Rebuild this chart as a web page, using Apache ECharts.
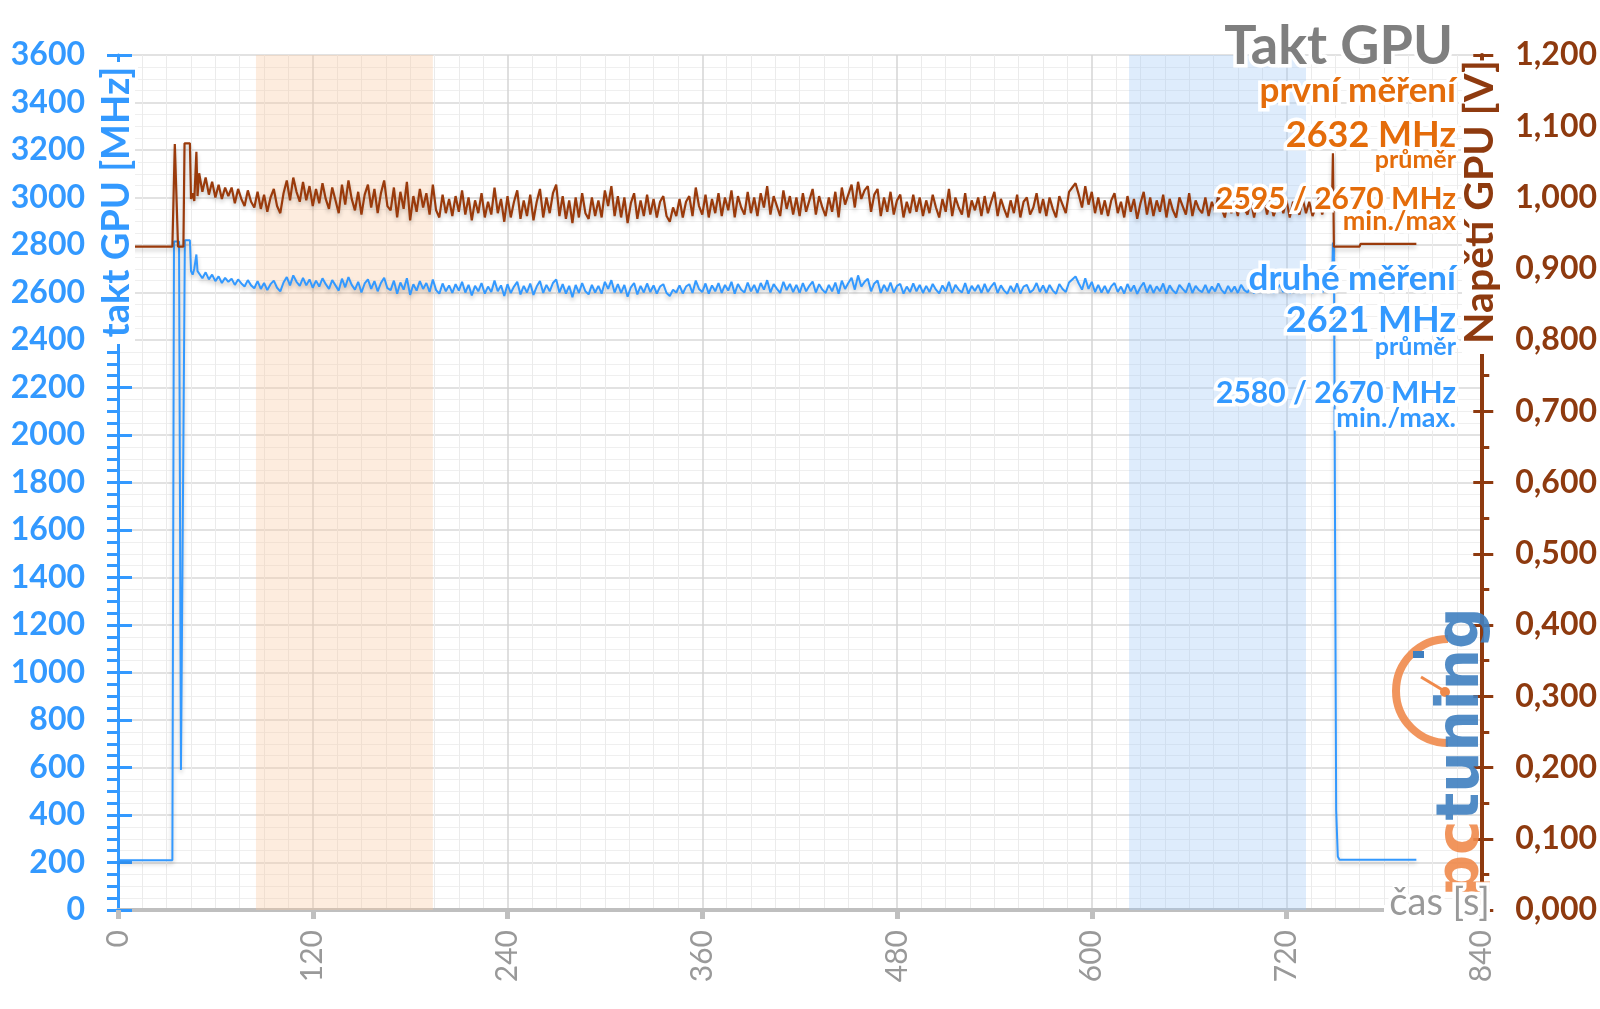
<!DOCTYPE html>
<html><head><meta charset="utf-8">
<script src="https://cdn.jsdelivr.net/npm/echarts@6/dist/echarts.min.js"></script>
<style>html,body{margin:0;padding:0;background:#fff}#c{width:1600px;height:1009px}</style>
</head><body><div id="c"></div><script>
// ---- axis ticks ----
const timeTicks = [0, 120, 240, 360, 480, 600, 720, 840];
const mhzTicks = [0, 200, 400, 600, 800, 1000, 1200, 1400, 1600, 1800, 2000, 2200, 2400, 2600, 2800, 3000, 3200, 3400, 3600];
const mvTicks = [0, 100, 200, 300, 400, 500, 600, 700, 800, 900, 1000, 1100, 1200];

// ---- highlighted intervals (s) ----
const bandOrange = [85, 194];
const bandBlue = [623, 732];

// ---- blue series: GPU clock (MHz) ----
const blueStartTimes = [0, 33.5, 34.5, 37.6, 38.8, 41.2, 44.3, 45, 46, 47, 48.3, 49];
const blueStart = [210, 210, 2815, 2815, 590, 2820, 2820, 2690, 2675, 2700, 2760, 2690];
// sampled every 2 s from 50 s to 746 s
const midBlue = [
2690,2660,2685,2655,2675,2648,2668,2640,2662,2645,
2658,2632,2655,2638,2625,2652,2630,2618,2648,2615,
2640,2610,2635,2650,2620,2605,2642,2665,2630,2672,
2645,2628,2662,2630,2655,2620,2650,2625,2660,2635,
2615,2652,2630,2608,2658,2622,2665,2632,2612,2645,
2600,2638,2655,2615,2648,2605,2640,2662,2618,2610,
2650,2595,2642,2612,2660,2590,2635,2608,2648,2615,
2640,2602,2655,2610,2595,2638,2605,2630,2598,2635,
2608,2645,2600,2632,2588,2628,2605,2640,2595,2625,
2602,2650,2605,2630,2585,2635,2598,2625,2645,2592,
2628,2600,2638,2590,2625,2648,2598,2632,2605,2640,
2655,2600,2635,2595,2628,2580,2632,2598,2640,2605,
2592,2632,2600,2628,2595,2645,2615,2652,2600,2635,
2598,2632,2582,2622,2640,2592,2628,2600,2638,2602,
2630,2595,2625,2635,2598,2585,2612,2600,2630,2596,
2625,2635,2598,2650,2615,2602,2638,2595,2630,2605,
2640,2598,2632,2608,2645,2595,2636,2612,2600,2642,
2605,2632,2598,2640,2612,2652,2600,2635,2615,2598,
2645,2610,2636,2602,2632,2598,2640,2605,2628,2646,
2600,2635,2612,2598,2632,2605,2642,2595,2650,2615,
2640,2662,2612,2672,2625,2645,2658,2605,2638,2650,
2598,2632,2605,2642,2600,2628,2636,2595,2625,2602,
2638,2605,2632,2598,2628,2602,2636,2612,2596,2630,
2605,2645,2598,2632,2612,2600,2640,2595,2628,2606,
2632,2598,2636,2602,2625,2642,2598,2630,2608,2595,
2628,2602,2638,2596,2625,2632,2600,2612,2640,2602,
2630,2598,2632,2608,2595,2636,2615,2602,2642,2655,
2668,2638,2612,2660,2615,2645,2602,2632,2600,2628,
2598,2626,2640,2602,2625,2596,2636,2605,2630,2594,
2622,2642,2600,2632,2598,2626,2605,2638,2595,2630,
2608,2596,2632,2615,2600,2640,2598,2628,2610,2602,
2632,2598,2625,2605,2638,2610,2596,2628,2602,2625,
2598,2632,2610,2600,2628,2596,2625,2608,2632,2600,
2626,2598,2612,2632,2602,2628,2596,2625,2610,2600,
2630,2602,2625,2598,2612,2632,2600,2625,2615
];
const blueEndTimes = [748, 748.6, 749.2, 750.6, 751.6, 752.6, 800];
const blueEnd = [2620, 2810, 2790, 420, 225, 212, 212];

// ---- brown series: GPU voltage (mV) ----
const brownStartTimes = [0, 33.5, 35, 35.9, 37, 40.3, 41, 44.3, 45, 46, 47, 48.3, 49];
const brownStart = [931, 931, 1075, 1075, 931, 931, 1076, 1076, 998, 1006, 995, 1064, 1002];
const midBrown = [
1034,1008,1028,1004,1022,1000,1018,998,1014,1002,
1014,992,1012,998,988,1010,994,986,1008,984,
1004,980,1000,1012,988,978,1006,1024,996,1028,
1008,994,1022,996,1016,988,1012,992,1020,998,
984,1014,996,978,1018,990,1024,998,982,1008,
976,1004,1018,986,1012,978,1006,1024,988,982,
1014,972,1008,984,1022,968,1002,980,1012,986,
1006,976,1018,982,972,1004,978,998,974,1002,
980,1010,976,1000,968,996,978,1006,972,994,
976,1014,978,998,966,1002,972,994,1010,970,
996,974,1004,968,994,1012,972,1000,978,1006,
1018,974,1002,970,996,964,1000,972,1006,978,
970,1000,974,996,972,1010,988,1016,974,1002,
972,1000,964,992,1006,970,996,974,1004,976,
998,972,994,1002,974,966,986,974,998,972,
994,1002,974,1014,988,976,1004,972,998,978,
1006,974,1000,982,1010,972,1002,986,976,1008,
978,1000,974,1006,986,1016,976,1002,988,974,
1010,984,1002,976,1000,974,1006,980,996,1012,
976,1002,986,974,1000,980,1008,972,1014,990,
1004,1018,986,1022,998,1010,1016,980,1004,1012,
974,1000,980,1008,976,996,1004,972,994,978,
1004,980,1000,974,996,978,1004,986,972,998,
980,1012,974,1000,986,976,1006,972,996,982,
1000,974,1002,978,994,1008,974,998,984,972,
996,978,1004,972,994,1000,976,986,1006,978,
998,974,1000,984,972,1002,990,978,1008,1014,
1020,1004,986,1016,990,1008,978,1000,976,996,
974,996,1006,978,994,972,1002,980,998,970,
992,1008,976,1000,974,996,980,1004,972,998,
982,972,1000,988,976,1006,974,996,984,978,
1000,974,994,980,1004,984,972,996,978,994,
974,1000,984,976,996,972,994,982,1000,976,
996,974,986,1000,978,996,972,994,984,976,
998,978,994,974,986,1000,976,994,988
];
const brownEndTimes = [748, 748.6, 749.2, 765, 765.6, 800];
const brownEnd = [985, 1062, 931, 931, 935, 935];

// ---- build ----
const midTimes = midBlue.map((_, i) => 50 + 2 * i);
const pairs = (ts, vs) => ts.map((t, i) => [t, vs[i]]);
const blueData = pairs(blueStartTimes, blueStart).concat(pairs(midTimes, midBlue), pairs(blueEndTimes, blueEnd));
const brownData = pairs(brownStartTimes, brownStart).concat(pairs(midTimes, midBrown), pairs(brownEndTimes, brownEnd));

const FONT = 'Lato, "Open Sans", sans-serif';
const BLUE = '#3399FF';
const BROWN = '#9A3A0B';
const AXBROWN = '#8E3A0F';
const ORANGE = '#E46C0A';
const GRAY = '#999999';

const chart = echarts.init(document.getElementById('c'), null, {renderer: 'canvas'});

const tMin = timeTicks[0], tMax = timeTicks[timeTicks.length - 1], tInt = timeTicks[1] - timeTicks[0];
const mMin = mhzTicks[0], mMax = mhzTicks[mhzTicks.length - 1], mInt = mhzTicks[1] - mhzTicks[0];
const vMin = mvTicks[0], vMax = mvTicks[mvTicks.length - 1], vInt = mvTicks[1] - mvTicks[0];

function txt(x, y, text, size, color, weight, align) {
  return {
    type: 'text', x: x, y: y, z: 100,
    style: {
      text: text, fill: color, fontSize: size, fontWeight: weight || 'bold', fontFamily: FONT,
      align: align || 'right', verticalAlign: 'middle',
      stroke: '#fff', lineWidth: 7, strokeFirst: true
    }
  };
}

const option = {
  animation: false,
  backgroundColor: '#fff',
  grid: {left: 118, right: 117, top: 55, bottom: 99},
  xAxis: {
    type: 'value', min: tMin, max: tMax, interval: tInt,
    axisLine: {lineStyle: {color: '#BFBFBF', width: 4}},
    axisTick: {show: true, length: 9, lineStyle: {color: '#BFBFBF', width: 5}},
    axisLabel: {rotate: 90, margin: 20, color: GRAY, fontSize: 30, fontFamily: FONT},
    splitLine: {show: true, lineStyle: {color: '#D4D4D4', width: 1.5}},
    minorTick: {show: false, splitNumber: 8},
    minorSplitLine: {show: true, lineStyle: {color: '#EBEBEB', width: 1}}
  },
  yAxis: [
    {
      type: 'value', position: 'left', min: mMin, max: mMax, interval: mInt,
      axisLine: {show: true, lineStyle: {color: BLUE, width: 3}},
      axisTick: {show: true, length: 11, lineStyle: {color: BLUE, width: 3}},
      minorTick: {show: true, splitNumber: 4, length: 11, lineStyle: {color: BLUE, width: 3}},
      axisLabel: {margin: 33, color: BLUE, fontSize: 32, fontWeight: 'bold', fontFamily: FONT,
        formatter: v => String(v)},
      splitLine: {show: true, lineStyle: {color: '#D9D9D9', width: 1.5}},
      minorSplitLine: {show: true, lineStyle: {color: '#EFEFEF', width: 1}}
    },
    {
      type: 'value', position: 'right', min: vMin, max: vMax, interval: vInt,
      axisLine: {show: true, lineStyle: {color: AXBROWN, width: 4}},
      axisTick: {show: true, length: 12, lineStyle: {color: AXBROWN, width: 3}},
      minorTick: {show: true, splitNumber: 2, length: 8, lineStyle: {color: AXBROWN, width: 3}},
      axisLabel: {margin: 34, color: AXBROWN, fontSize: 32, fontWeight: 'bold', fontFamily: FONT,
        formatter: v => (v / 1000).toFixed(3).replace('.', ',')},
      splitLine: {show: false}
    },
    {
      type: 'value', position: 'left', min: mMin, max: mMax, interval: mInt,
      axisLine: {show: false}, axisLabel: {show: false}, splitLine: {show: false},
      axisTick: {show: true, inside: true, length: 14, lineStyle: {color: BLUE, width: 3}}
    },
    {
      type: 'value', position: 'right', min: vMin, max: vMax, interval: vInt,
      axisLine: {show: false}, axisLabel: {show: false}, splitLine: {show: false},
      axisTick: {show: true, inside: true, length: 8, lineStyle: {color: AXBROWN, width: 3}}
    }
  ],
  series: [
    {
      type: 'line', name: 'druhé měření', yAxisIndex: 0, data: blueData, symbol: 'none', z: 3,
      lineStyle: {color: BLUE, width: 2, shadowColor: 'rgba(0,0,0,0.22)', shadowBlur: 4, shadowOffsetY: 3},
      markArea: {
        silent: true,
        data: [
          [{xAxis: bandOrange[0], itemStyle: {color: 'rgba(250,200,160,0.35)'}}, {xAxis: bandOrange[1]}],
          [{xAxis: bandBlue[0], itemStyle: {color: 'rgba(161,201,246,0.35)'}}, {xAxis: bandBlue[1]}]
        ]
      }
    },
    {
      type: 'line', name: 'Napětí GPU', yAxisIndex: 1, data: brownData, symbol: 'none', z: 4,
      lineStyle: {color: BROWN, width: 2.2, shadowColor: 'rgba(0,0,0,0.22)', shadowBlur: 4, shadowOffsetY: 3}
    }
  ],
  graphic: [
    // white halos under axis titles
    {type: 'rect', z: 50, shape: {x: 100, y: 62, width: 35, height: 282}, style: {fill: '#fff'}},
    {type: 'rect', z: 50, shape: {x: 1462, y: 62, width: 36, height: 292}, style: {fill: '#fff'}},
    {type: 'rect', z: 50, shape: {x: 1384, y: 905, width: 99, height: 10}, style: {fill: '#fff'}},
    {type: 'text', x: 117, y: 202, rotation: Math.PI / 2, z: 100,
      style: {text: 'takt GPU [MHz]', fill: BLUE, fontSize: 38, fontWeight: 'bold', fontFamily: FONT,
        align: 'center', verticalAlign: 'middle', stroke: '#fff', lineWidth: 6, strokeFirst: true}},
    {type: 'text', x: 1480, y: 202, rotation: Math.PI / 2, z: 100,
      style: {text: 'Napětí GPU [V]', fill: AXBROWN, fontSize: 41, fontWeight: 'bold', fontFamily: FONT,
        align: 'center', verticalAlign: 'middle', stroke: '#fff', lineWidth: 6, strokeFirst: true}},
    txt(1490, 903, 'čas [s]', 38, GRAY, 'normal'),
    // logo
    {type: 'group', z: 20, children: [
      {type: 'arc', z: 20, shape: {cx: 1448, cy: 691, r: 52, startAngle: Math.PI / 2, endAngle: Math.PI * 3 / 2, clockwise: true},
        style: {stroke: '#F08A4B', lineWidth: 8, fill: null, opacity: 0.9}},
      {type: 'line', z: 20, shape: {x1: 1446, y1: 692, x2: 1421, y2: 677}, style: {stroke: '#F08A4B', lineWidth: 3}},
      {type: 'circle', z: 20, shape: {cx: 1445, cy: 692, r: 5}, style: {fill: '#F08A4B'}},
      {type: 'rect', z: 20, shape: {x: 1413, y: 651, width: 11, height: 7}, style: {fill: '#3F7FC0'}},
      {type: 'text', x: 1463, y: 752, rotation: Math.PI / 2, z: 20,
        style: {text: '{a|pc}{b|tuning}', fontSize: 58, fontWeight: 'bold', fontFamily: '"DejaVu Sans", sans-serif',
          align: 'center', verticalAlign: 'middle', opacity: 0.9,
          rich: {a: {fill: '#F08A4B', fontSize: 58, fontWeight: 'bold', fontFamily: '"DejaVu Sans", sans-serif'},
                 b: {fill: '#3F7FC0', fontSize: 58, fontWeight: 'bold', fontFamily: '"DejaVu Sans", sans-serif'}}}}
    ]},
    // titles
    txt(1453, 47, 'Takt GPU', 54, '#7F7F7F'),
    txt(1456, 91, 'první měření', 35, ORANGE),
    txt(1456, 135, '2632 MHz', 36, ORANGE),
    txt(1456, 160, 'průměr', 25, ORANGE),
    txt(1456, 199, '2595 / 2670 MHz', 30, ORANGE),
    txt(1456, 221, 'min./max', 27, ORANGE),
    txt(1456, 279, 'druhé měření', 35, BLUE),
    txt(1456, 320, '2621 MHz', 36, BLUE),
    txt(1456, 347, 'průměr', 25, BLUE),
    txt(1456, 393, '2580 / 2670 MHz', 30, BLUE),
    txt(1456, 418, 'min./max.', 27, BLUE)
  ]
};
chart.setOption(option);
</script></body></html>
